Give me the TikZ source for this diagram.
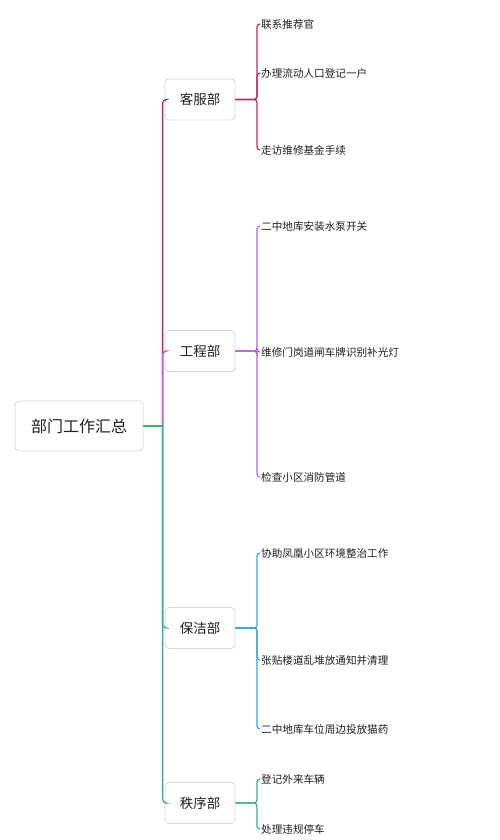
\documentclass[tikz,border=0pt]{standalone}
\usepackage{fontspec}
\setmainfont{Noto Sans CJK SC}
\begin{document}
\begin{tikzpicture}[x=1pt,y=-1pt,
  box/.style={draw=black!16,fill=white,rounded corners=4pt,line width=0.8pt,text=black!88,inner sep=0pt},
  rootbox/.style={box,minimum width=128pt,minimum height=50pt,font=\fontsize{16}{18}\selectfont},
  topbox/.style={box,minimum width=70pt,minimum height=41pt,font=\fontsize{13.5}{15}\selectfont},
  leaf/.style={anchor=west,inner sep=1pt,text=black!88,font=\fontsize{10.6}{12}\selectfont},
  conn/.style={line width=1.3pt,rounded corners=4pt},
  lconn/.style={line width=1.2pt,rounded corners=3pt}]
\definecolor{cred}{HTML}{B3305E}
\definecolor{cpur}{HTML}{B567D6}
\definecolor{cblu}{HTML}{3FA4D6}
\definecolor{cgrn}{HTML}{3DB07A}
\useasboundingbox[fill=white] (0,0) rectangle (500,840);

\node[rootbox] (root) at (79,426) {部门工作汇总};
\node[topbox] (kf) at (200,99.5) {客服部};
\node[topbox] (gc) at (200,351) {工程部};
\node[topbox] (bj) at (200,628) {保洁部};
\node[topbox] (zx) at (200,803) {秩序部};

\node[leaf] (k1) at (260,24) {联系推荐官};
\node[leaf] (k2) at (260,73) {办理流动人口登记一户};
\node[leaf] (k3) at (260,150) {走访维修基金手续};
\node[leaf] (g1) at (260,226) {二中地库安装水泵开关};
\node[leaf] (g2) at (260,352) {维修门岗道闸车牌识别补光灯};
\node[leaf] (g3) at (260,477) {检查小区消防管道};
\node[leaf] (b1) at (260,553) {协助凤凰小区环境整治工作};
\node[leaf] (b2) at (260,660) {张贴楼道乱堆放通知并清理};
\node[leaf] (b3) at (260,729) {二中地库车位周边投放猫药};
\node[leaf] (z1) at (260,779) {登记外来车辆};
\node[leaf] (z2) at (260,829) {处理违规停车};

\coordinate (tr) at ([xshift=-2pt]kf.west |- root.east);

% trunk branches (order matters: later ones overlay earlier)
\draw[conn,cred] (tr) -- ([xshift=-2pt]kf.west) -- (kf.west);
\draw[conn,cblu] (tr) -- ([xshift=-2pt]bj.west) -- (bj.west);
\draw[conn,cpur] (tr) -- ([xshift=-2pt]gc.west) -- (gc.west);
\draw[conn,cgrn] (tr) -- ([xshift=-2pt]zx.west) -- (zx.west);
\draw[line width=1.3pt,cgrn] (root.east) -- ([xshift=0.65pt]tr);

% leaf connectors
\foreach \p/\l in {kf/k1,kf/k2,kf/k3}
  \draw[lconn,cred] (\p.east) -- ([xshift=-3pt]\l.west |- \p.east) -- ([xshift=-3pt]\l.west) -- (\l.west);
\foreach \p/\l in {gc/g1,gc/g2,gc/g3}
  \draw[lconn,cpur] (\p.east) -- ([xshift=-3pt]\l.west |- \p.east) -- ([xshift=-3pt]\l.west) -- (\l.west);
\foreach \p/\l in {bj/b1,bj/b2,bj/b3}
  \draw[lconn,cblu] (\p.east) -- ([xshift=-3pt]\l.west |- \p.east) -- ([xshift=-3pt]\l.west) -- (\l.west);
\foreach \p/\l in {zx/z1,zx/z2}
  \draw[lconn,cgrn] (\p.east) -- ([xshift=-3pt]\l.west |- \p.east) -- ([xshift=-3pt]\l.west) -- (\l.west);
\end{tikzpicture}
\end{document}
